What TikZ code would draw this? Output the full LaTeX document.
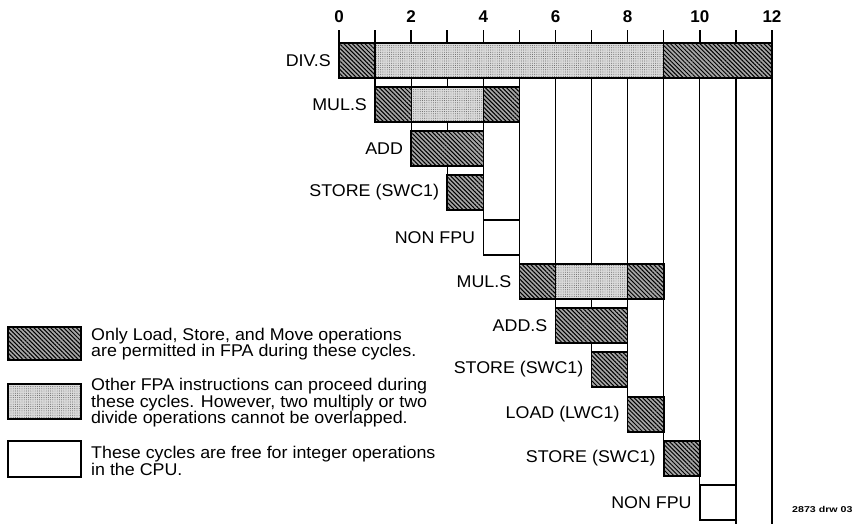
\documentclass[tikz,border=0pt]{standalone}
\usepackage{fontspec}
\setmainfont{Liberation Sans}
\newfontfamily\labf[FakeStretch=1.05]{Liberation Sans}
\newfontfamily\tinyf[FakeStretch=1.25]{Liberation Sans}
\usetikzlibrary{patterns.meta}
\tikzset{
  hatch/.style={preaction={fill=black!35}, pattern={Lines[angle=-45,distance=3pt,line width=1pt]}, pattern color=black},
  stipple/.style={preaction={fill=black!14}, pattern={Dots[distance=2.2pt,radius=0.45pt]}, pattern color=black!70},
  cpu/.style={fill=white, draw=black, line width=1.3pt},
  barline/.style={draw=black, line width=1.6pt},
  sepline/.style={draw=black, line width=1.2pt},
  lbl/.style={font=\labf\fontsize{17}{17}\selectfont, anchor=east, inner sep=0pt, xshift=-8pt},
  axnum/.style={font=\bfseries\fontsize{17}{17}\selectfont, inner sep=0pt},
  legtxt/.style={font=\labf\fontsize{17}{16.5}\selectfont, anchor=west, align=left, inner sep=0pt},
  legbox/.style={draw=black, line width=1.2pt},
}
\begin{document}
\begin{tikzpicture}[x=1pt, y=-1pt]
\useasboundingbox (0,0) rectangle (853,523);
\fill[white] (0,0) rectangle (853,523);
\begin{scope}[x=36.08pt, xshift=339pt]
  % white CPU columns
  \foreach \c/\e in {1/87,2/131,3/175,4/220,5/264,6/308,7/352,8/397,9/441,10/485,11/540}
    \draw[cpu] (\c,78) rectangle (\c+1,\e);
  % ticks and numbers
  \foreach \c in {0,...,12} \draw[line width=1.5pt] (\c,30) -- (\c,43);
  \foreach \c in {0,2,...,12} \node[axnum] (n\c) at (\c,17) {\c};
  % row 0: DIV.S
  \path[hatch] (0,43) rectangle (1,78);
  \path[stipple] (1,43) rectangle (9,78);
  \path[hatch] (9,43) rectangle (12,78);
  \draw[sepline] (1,43) -- (1,78) (9,43) -- (9,78);
  \draw[barline] (0,43) rectangle (12,78);
  \node[lbl] (l0) at (0,60.5) {DIV.S};
  % row 1: MUL.S
  \path[hatch] (1,87) rectangle (2,122);
  \path[stipple] (2,87) rectangle (4,122);
  \path[hatch] (4,87) rectangle (5,122);
  \draw[sepline] (2,87) -- (2,122) (4,87) -- (4,122);
  \draw[barline] (1,87) rectangle (5,122);
  \node[lbl] (l1) at (1,104.5) {MUL.S};
  % row 2: ADD
  \path[hatch] (2,131) rectangle (4,166);
  \draw[barline] (2,131) rectangle (4,166);
  \node[lbl] (l2) at (2,148.5) {ADD};
  % row 3: STORE
  \path[hatch] (3,175) rectangle (4,210);
  \draw[barline] (3,175) rectangle (4,210);
  \node[lbl] (l3) at (3,192.5) {STORE (SWC1)};
  % row 4: NON FPU
  \draw[cpu, line width=1.6pt] (4,220) rectangle (5,255);
  \node[lbl] (l4) at (4,237.5) {NON FPU};
  % row 5: MUL.S
  \path[hatch] (5,264) rectangle (6,299);
  \path[stipple] (6,264) rectangle (8,299);
  \path[hatch] (8,264) rectangle (9,299);
  \draw[sepline] (6,264) -- (6,299) (8,264) -- (8,299);
  \draw[barline] (5,264) rectangle (9,299);
  \node[lbl] (l5) at (5,281.5) {MUL.S};
  % row 6: ADD.S
  \path[hatch] (6,308) rectangle (8,343);
  \draw[barline] (6,308) rectangle (8,343);
  \node[lbl] (l6) at (6,325.5) {ADD.S};
  % row 7: STORE
  \path[hatch] (7,352) rectangle (8,387);
  \draw[barline] (7,352) rectangle (8,387);
  \node[lbl] (l7) at (7,369.5) {STORE (SWC1)};
  % row 8: LOAD
  \path[hatch] (8,397) rectangle (9,432);
  \draw[barline] (8,397) rectangle (9,432);
  \node[lbl] (l8) at (8,414.5) {LOAD (LWC1)};
  % row 9: STORE
  \path[hatch] (9,441) rectangle (10,476);
  \draw[barline] (9,441) rectangle (10,476);
  \node[lbl] (l9) at (9,458.5) {STORE (SWC1)};
  % row 10: NON FPU
  \draw[cpu, line width=1.6pt] (10,485) rectangle (11,520);
  \node[lbl] (l10) at (10,502.5) {NON FPU};
\end{scope}
% legend
\path[hatch] (8,327) rectangle (81,360);
\draw[legbox] (8,327) rectangle (81,360);
\node[legtxt] (t1) at (91,344) {Only Load, Store, and Move operations\\are permitted in FPA during these cycles.};
\path[stipple] (8,384) rectangle (81,419);
\draw[legbox] (8,384) rectangle (81,419);
\node[legtxt] (t2) at (91,403) {Other FPA instructions can proceed during\\these cycles. However, two multiply or two\\divide operations cannot be overlapped.};
\draw[legbox, fill=white] (8,441) rectangle (81,477);
\node[legtxt] (t3) at (91,461) {These cycles are free for integer operations\\in the CPU.};
\node[font=\tinyf\bfseries\fontsize{8.5}{9}\selectfont, anchor=west, inner sep=0pt] (ref) at (792,509) {2873 drw 03};
\end{tikzpicture}
\end{document}
